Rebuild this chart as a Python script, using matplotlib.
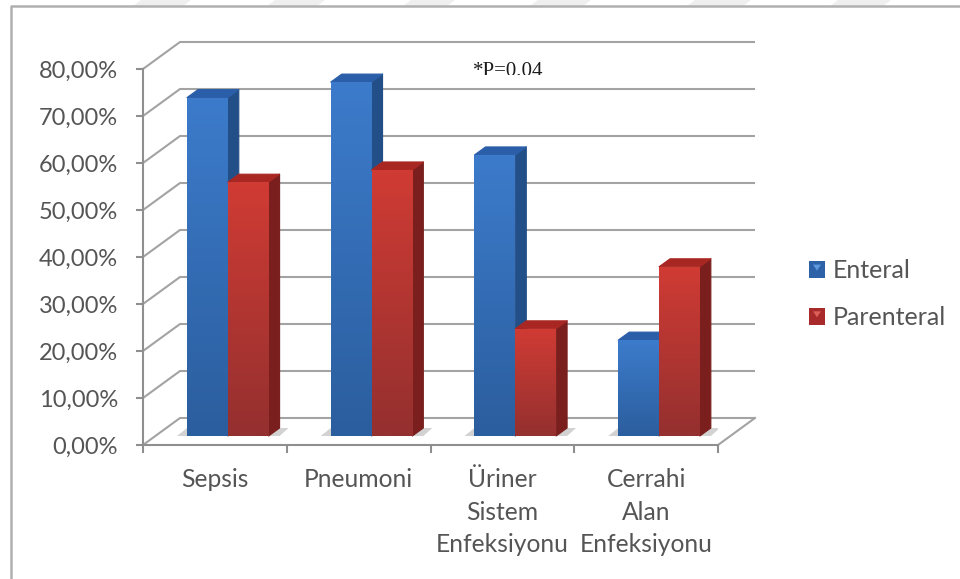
import matplotlib
matplotlib.use("Agg")
import matplotlib.pyplot as plt
import numpy as np
from matplotlib.lines import Line2D
from matplotlib.patches import Polygon, Rectangle
from matplotlib.transforms import Bbox

categories = ["Sepsis", "Pneumoni", "Üriner\nSistem\nEnfeksiyonu", "Cerrahi\nAlan\nEnfeksiyonu"]
enteral = [72.0, 75.3, 59.8, 20.4]
parenteral = [54.0, 56.6, 22.8, 36.0]
y_ticks = [0, 10, 20, 30, 40, 50, 60, 70, 80]
y_labels = ["0,00%", "10,00%", "20,00%", "30,00%", "40,00%", "50,00%", "60,00%", "70,00%", "80,00%"]
series_names = ["Enteral", "Parenteral"]

W, H = 960, 579
TEXT = "#555555"
GRID = "#a3a3a3"

plt.rcParams["font.family"] = ["Lato", "DejaVu Sans"]

# axis scale: one category = 143.75 px, one percent = 4.7 px
PX_X = 143.75
PX_Y = 4.7
WALL_DX = 37 / PX_X
WALL_DY = 27 / PX_Y
BAR_DX = 11 / PX_X
BAR_DY = 8 / PX_Y
BAR_W = 40.8 / PX_X
BAR_BASE = 9 / PX_Y
BAR_START = 0.306

BLUE = dict(top="#3c7bcb", bottom="#2b5e9e", side="#234f88", cap="#2a5ea8")
RED = dict(top="#d03b34", bottom="#94302f", side="#7a1f1d", cap="#a82723")

fig = plt.figure(figsize=(W / 100, H / 100), dpi=100, facecolor="white")
ax = fig.add_axes([143 / W, 1 - 445 / H, 575 / W, 376 / H])
ax.set_xlim(0, 4)
ax.set_ylim(0, 80)
ax.patch.set_visible(False)


def fig_xy(x, y):
    return x / W, 1 - y / H


# pale stripes along the top edge
for x0, x1 in [(133, 183), (267, 317), (403, 447), (530, 583), (687, 743), (830, 883)]:
    pts = [fig_xy(x0, 6), fig_xy(x0 + 8, 0), fig_xy(x1 + 8, 0), fig_xy(x1, 6)]
    fig.add_artist(Polygon(pts, closed=True, transform=fig.transFigure, fc="#efefef", ec="none"))

# outer frame
fig.add_artist(Line2D([10.5 / W, 10.5 / W, 1], [0, 1 - 5.5 / H, 1 - 5.5 / H],
                      transform=fig.transFigure, color="#b0b0b0", lw=1.8))

# gridlines run up the side wall and along the back wall
for v in y_ticks:
    ax.plot([0, WALL_DX, 4 + WALL_DX], [v, v + WALL_DY, v + WALL_DY],
            color=GRID, lw=1.5, clip_on=False, zorder=1, solid_capstyle="butt")
ax.plot([4, 4 + WALL_DX], [0, WALL_DY], color=GRID, lw=1.5, clip_on=False, zorder=1)


def draw_bar(x, value, style, zorder):
    top = BAR_BASE + value
    right = x + BAR_W
    side = [(right, BAR_BASE), (right + BAR_DX, BAR_BASE + BAR_DY),
            (right + BAR_DX, top + BAR_DY), (right, top)]
    cap = [(x, top), (x + BAR_DX, top + BAR_DY), (right + BAR_DX, top + BAR_DY), (right, top)]
    ax.add_patch(Polygon(side, closed=True, fc=style["side"], ec=style["side"], lw=0.8,
                         joinstyle="round", zorder=zorder, clip_on=False))
    ax.add_patch(Polygon(cap, closed=True, fc=style["cap"], ec=style["cap"], lw=0.8,
                         joinstyle="round", zorder=zorder, clip_on=False))
    front = ax.bar(x, value, BAR_W, bottom=BAR_BASE, align="edge", color=style["bottom"], zorder=zorder)[0]
    # vertical gradient on the front face
    c0 = np.array(matplotlib.colors.to_rgb(style["top"]))
    c1 = np.array(matplotlib.colors.to_rgb(style["bottom"]))
    t = np.linspace(0, 1, 64)[:, None, None]
    img = ax.imshow(c0 * (1 - t) + c1 * t, extent=[x, right, BAR_BASE, top], aspect="auto",
                    zorder=zorder + 0.1, interpolation="bilinear")
    img.set_clip_path(front)


for i in range(len(categories)):
    x = i + BAR_START
    # soft shadow on the floor behind each pair
    shadow = [(x - 10 / PX_X, BAR_BASE), (x, BAR_BASE + BAR_DY), (x + 2 * BAR_W + 20 / PX_X, BAR_BASE + BAR_DY),
              (x + 2 * BAR_W + 11 / PX_X, BAR_BASE)]
    ax.add_patch(Polygon(shadow, closed=True, fc="#d2d2d2", ec="none", zorder=2))
    draw_bar(x, enteral[i], BLUE, 3)
    draw_bar(x + BAR_W, parenteral[i], RED, 4)

ax.set_xlim(0, 4)
ax.set_ylim(0, 80)

for name in ["top", "right"]:
    ax.spines[name].set_visible(False)
for name in ["left", "bottom"]:
    ax.spines[name].set_color("#8f8f8f")
    ax.spines[name].set_linewidth(1.5)
    ax.spines[name].set_zorder(6)

ax.set_yticks(y_ticks)
ax.set_yticklabels(y_labels, fontsize=17, color=TEXT, va="center_baseline")
ax.tick_params(axis="y", length=5, width=1.5, color="#8f8f8f", pad=13)
ax.set_xticks(range(5))
ax.set_xticklabels([])
ax.set_xticks(np.arange(len(categories)) + 0.5, minor=True)
ax.set_xticklabels(categories, minor=True, fontsize=17.7, color=TEXT, linespacing=1.51)
ax.tick_params(axis="x", which="major", length=6, width=1.5, color="#8f8f8f")
ax.tick_params(axis="x", which="minor", length=0, pad=16.5)

# significance note, its lower edge is cut off
note = fig.text(473 / W, 1 - 75.5 / H, "*P=0,04", family="Liberation Serif", fontsize=15,
                color="#1a1a1a", va="baseline", ha="left")
note.set_clip_on(True)
note.set_clip_box(Bbox([[460, H - 74.5], [560, H - 50]]))


class GlossyKey:
    def __init__(self, base, glow):
        self.base = base
        self.glow = glow

    def legend_artist(self, legend, orig_handle, fontsize, handlebox):
        w, h = handlebox.width, handlebox.height
        x0, y0 = handlebox.xdescent, handlebox.ydescent
        tr = handlebox.get_transform()
        handlebox.add_artist(Rectangle((x0, y0), w, h, fc=self.base, ec="none", transform=tr))
        tri = [(x0 + 0.25 * w, y0 + 0.8 * h), (x0 + 0.75 * w, y0 + 0.8 * h), (x0 + 0.5 * w, y0 + 0.45 * h)]
        p = Polygon(tri, closed=True, fc=self.glow, ec="none", transform=tr)
        handlebox.add_artist(p)
        return p


h_ent = Rectangle((0, 0), 1, 1, label=series_names[0])
h_par = Rectangle((0, 0), 1, 1, label=series_names[1])
leg = fig.legend([h_ent, h_par], series_names, loc="center left",
                 bbox_to_anchor=(809 / W, 1 - 294 / H), frameon=False, fontsize=18,
                 labelcolor=TEXT, handlelength=0.64, handleheight=0.68, handletextpad=0.3,
                 labelspacing=0.95, borderpad=0, borderaxespad=0,
                 handler_map={h_ent: GlossyKey("#2d62a8", "#5f9ade"), h_par: GlossyKey("#a82a2a", "#dd5f58")})

fig.savefig("out.png", dpi=100, facecolor="white")
